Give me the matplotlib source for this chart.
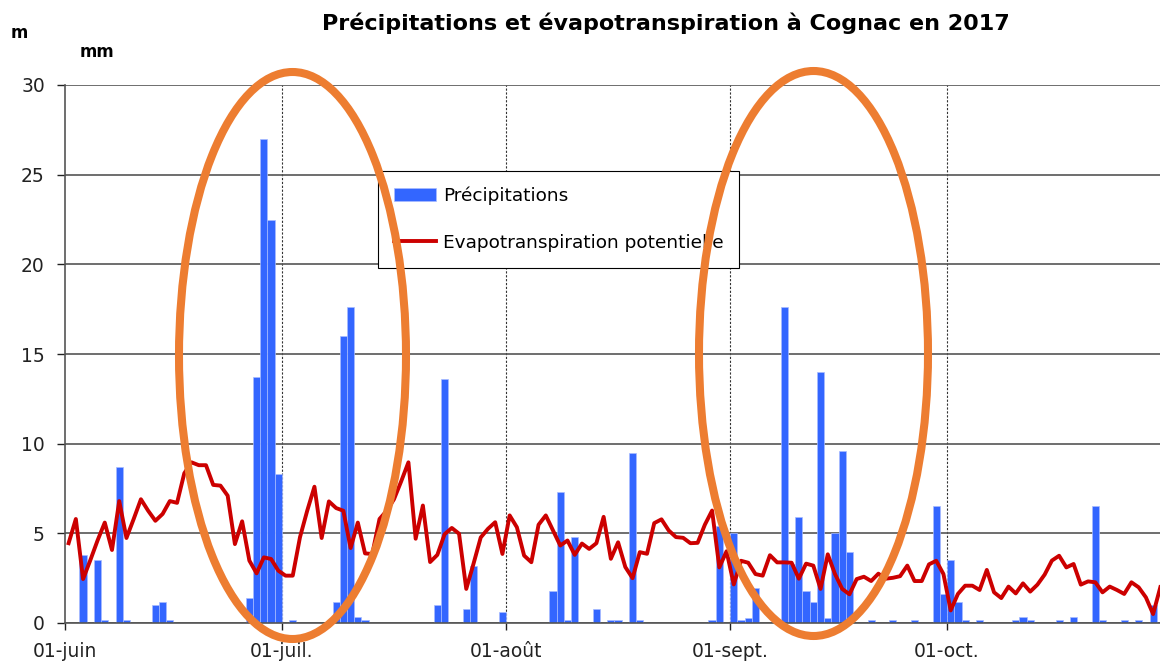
import matplotlib
matplotlib.use("Agg")
import matplotlib.pyplot as plt
from matplotlib.patches import Ellipse
import numpy as np

# Pluie journaliere (mm), mois par mois
precip_juin = [0, 0, 3.8, 0, 3.5, 0.15, 0, 8.7, 0.15, 0,
               0, 0, 1.0, 1.15, 0.15, 0, 0, 0, 0, 0,
               0, 0, 0, 0, 0, 1.4, 13.7, 27.0, 22.5, 8.3]
precip_juil = [0, 0.15, 0, 0, 0, 0, 0, 1.15, 16.0, 17.6,
               0.35, 0.15, 0, 0, 0, 0, 0, 0, 0, 0,
               0, 1.0, 13.6, 0, 0, 0.8, 3.2, 0, 0, 0, 0.6]
precip_aout = [0, 0, 0, 0, 0, 0, 1.8, 7.3, 0.15, 4.8,
               0, 0, 0.8, 0, 0.15, 0.15, 0, 9.5, 0.15, 0,
               0, 0, 0, 0, 0, 0, 0, 0, 0.15, 5.4, 0]
precip_sept = [5.0, 0.15, 0.3, 1.95, 0, 0, 0, 17.6, 3.3, 5.9,
               1.8, 1.15, 14.0, 0.3, 5.0, 9.6, 3.95, 0, 0, 0.15,
               0, 0, 0.15, 0, 0, 0.15, 0, 0, 6.5, 1.6]
precip_oct = [3.5, 1.15, 0.15, 0, 0.15, 0, 0, 0, 0, 0.15,
              0.35, 0.15, 0, 0, 0, 0.15, 0, 0.35, 0, 0,
              6.5, 0.15, 0, 0, 0.15, 0, 0.15, 0, 1.0, 0]

# Evapotranspiration potentielle journaliere (mm)
etp_juin = [4.45, 5.8, 2.45, 3.5, 4.6, 5.6, 4.07, 6.8, 4.74, 5.8,
            6.9, 6.26, 5.7, 6.08, 6.8, 6.7, 8.35, 8.96, 8.8, 8.8,
            7.7, 7.66, 7.1, 4.4, 5.67, 3.48, 2.77, 3.66, 3.57, 2.92]
etp_juil = [2.64, 2.64, 4.78, 6.26, 7.6, 4.74, 6.78, 6.41, 6.26, 4.18,
            5.6, 3.88, 3.85, 5.8, 6.26, 6.9, 7.9, 8.96, 4.7, 6.55,
            3.4, 3.8, 4.95, 5.3, 4.98, 1.9, 3.3, 4.77, 5.25, 5.62, 3.85]
etp_aout = [6.0, 5.34, 3.76, 3.39, 5.48, 6.0, 5.16, 4.32, 4.6, 3.8,
            4.43, 4.13, 4.45, 5.92, 3.58, 4.5, 3.12, 2.5, 3.95, 3.86,
            5.57, 5.78, 5.16, 4.79, 4.75, 4.45, 4.47, 5.48, 6.27, 3.1, 4.0]
etp_sept = [2.15, 3.47, 3.36, 2.73, 2.64, 3.78, 3.38, 3.38, 3.36, 2.47,
            3.31, 3.2, 1.9, 3.83, 2.73, 1.9, 1.6, 2.45, 2.58, 2.34,
            2.75, 2.47, 2.52, 2.61, 3.2, 2.34, 2.34, 3.27, 3.47, 2.73]
etp_oct = [0.7, 1.62, 2.08, 2.08, 1.84, 2.96, 1.71, 1.39, 2.03, 1.65,
           2.21, 1.75, 2.14, 2.7, 3.48, 3.75, 3.1, 3.29, 2.14, 2.32,
           2.27, 1.71, 2.03, 1.84, 1.62, 2.27, 1.99, 1.43, 0.5, 2.0]

# Premier jour de chaque mois (jours depuis le 1er juin) et libelles
month_start = [0, 30, 61, 92, 122]
month_labels = ["01-juin", "01-juil.", "01-août", "01-sept.", "01-oct."]

precip = np.array(precip_juin + precip_juil + precip_aout + precip_sept + precip_oct)
etp = np.array(etp_juin + etp_juil + etp_aout + etp_sept + etp_oct)
days = np.arange(len(precip))

plt.rcParams['font.family'] = ['DejaVu Sans']

W, H = 1160, 663
fig = plt.figure(figsize=(W / 100, H / 100), dpi=100)
ax = fig.add_axes([65 / W, 1 - 623 / H, 1095 / W, 538 / H])

# Barres de pluie et courbe ETP
bars = ax.bar(days, precip, width=1.0, align='edge', color='#3366ff',
              edgecolor='#a8bcff', linewidth=0.5, zorder=2)
line, = ax.plot(days + 0.5, etp, color='#cc0000', lw=2.8, zorder=3,
                solid_joinstyle='round')

ax.set_xlim(0, 1095 / 7.23)
ax.set_ylim(0, 30)
ax.set_yticks(range(0, 31, 5))
ax.set_xticks(month_start)
ax.set_xticklabels(month_labels)

# Grille horizontale pleine, verticale en pointilles
ax.yaxis.grid(True, color='#555555', lw=1.2, zorder=0.5)
for m in month_start[1:]:
    ax.axvline(m, color='#333333', lw=0.8, ls=(0, (2, 1.5)), zorder=0.6)

for side in ['top', 'right']:
    ax.spines[side].set_visible(False)
ax.spines['left'].set_color('#555555')
ax.spines['left'].set_linewidth(1.2)
ax.spines['bottom'].set_color('#555555')
ax.spines['bottom'].set_linewidth(1.2)
ax.tick_params(axis='y', length=5.5, width=1, pad=9, labelsize=13.5, colors='#222222')
ax.tick_params(axis='x', length=5, width=1, pad=9, labelsize=13.5, colors='#222222')

leg = ax.legend([bars, line], ['Précipitations', 'Evapotranspiration potentielle'],
                loc='upper left', bbox_to_anchor=(0.286, 0.840), borderaxespad=0,
                fontsize=13.3, fancybox=False, edgecolor='black', framealpha=1,
                handlelength=2.3, handletextpad=0.35, labelspacing=1.55,
                borderpad=0.85)
leg.get_frame().set_linewidth(0.8)

# Titre et unites
fig.text(666 / W, 1 - 23 / H, "Précipitations et évapotranspiration à Cognac en 2017",
         ha='center', va='center', fontsize=16, fontweight='bold')
fig.text(80 / W, 1 - 52 / H, "mm", ha='left', va='center', fontsize=12, fontweight='bold')
fig.text(11 / W, 1 - 33 / H, "m", ha='left', va='center', fontsize=12, fontweight='bold')

# Ellipses orange de mise en evidence
for cx, cy, ew, eh in [(292.5, 355.5, 227, 567), (813.5, 353.5, 229, 565)]:
    e = Ellipse((cx / W, 1 - cy / H), ew / W, eh / H, transform=fig.transFigure,
                fill=False, edgecolor='#ed7d31', lw=5.8, zorder=10, clip_on=False)
    fig.add_artist(e)

fig.savefig("out.png", dpi=100)
